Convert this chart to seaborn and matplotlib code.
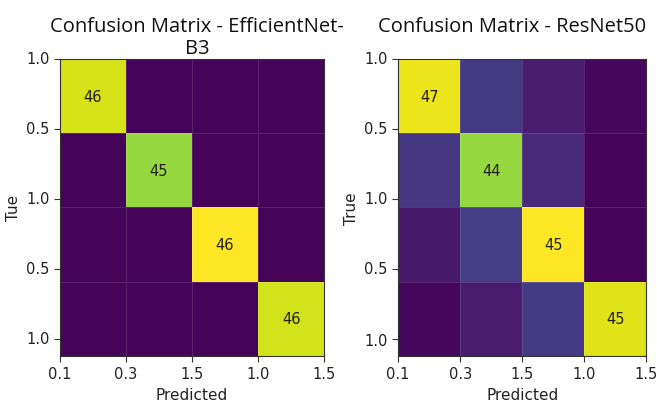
import numpy as np
import matplotlib
matplotlib.use("Agg")
import matplotlib.pyplot as plt
import seaborn as sns

# Data
titles = ["Confusion Matrix - EfficientNet-\nB3", "Confusion Matrix - ResNet50"]
ylabels = ["Tue", "True"]
xlabel = "Predicted"
x_tick_labels = ["0.1", "0.3", "1.5", "1.0", "1.5"]
y_tick_labels = ["1.0", "0.5", "1.0", "0.5", "1.0"]

# diagonal counts shown in the cells
effnet_counts = [46, 45, 46, 46]
resnet_counts = [47, 44, 45, 45]

# colour intensity of each cell (fraction of the viridis range)
effnet_shade = [
    [0.94, 0.01, 0.01, 0.01],
    [0.01, 0.84, 0.01, 0.01],
    [0.01, 0.01, 1.00, 0.01],
    [0.01, 0.01, 0.01, 0.93],
]
resnet_shade = [
    [0.97, 0.17, 0.08, 0.02],
    [0.16, 0.84, 0.12, 0.01],
    [0.07, 0.18, 1.00, 0.01],
    [0.02, 0.08, 0.17, 0.95],
]

sns.set_style("white")
plt.rcParams["font.family"] = ["DejaVu Sans"]

fig = plt.figure(figsize=(6.57, 4.02), dpi=100)
ax1 = fig.add_axes([0.0913, 0.112, 0.402, 0.739])
ax2 = fig.add_axes([0.606, 0.112, 0.3775, 0.739])

for ax, shade, counts, title, ylab, tx in [
    (ax1, effnet_shade, effnet_counts, titles[0], ylabels[0], 0.52),
    (ax2, resnet_shade, resnet_counts, titles[1], ylabels[1], 0.46),
]:
    shade = np.array(shade)
    n = shade.shape[0]
    annot = np.full((n, n), "", dtype=object)
    for i, c in enumerate(counts):
        annot[i, i] = str(c)
    sns.heatmap(shade, ax=ax, cmap="viridis", vmin=0, vmax=1, cbar=False,
                annot=annot, fmt="", annot_kws={"color": "#222222", "fontsize": 10.5},
                linewidths=0.4, linecolor=(1, 1, 1, 0.12), square=False)
    ax.set_xticks(np.arange(n + 1))
    ax.set_xticklabels(x_tick_labels, rotation=0, fontsize=10.5, color="#222222")
    ax.set_yticks(np.linspace(0, 3.77, 5))
    ax.set_yticklabels(y_tick_labels, rotation=0, fontsize=10.5, color="#222222")
    ax.tick_params(axis="both", length=4, width=0.8, color="#333333", bottom=True, left=True)
    ax.set_xlabel(xlabel, fontsize=11, color="#222222")
    ax.set_ylabel(ylab, fontsize=11, color="#222222", labelpad=4)
    ax.set_title(title, fontsize=14.5, color="#111111", x=tx, y=1.115, va="top",
                 linespacing=1.1, family="Open Sans")
    for s in ax.spines.values():
        s.set_visible(True)
        s.set_color("#333333")
        s.set_linewidth(0.8)

fig.savefig("out.png", dpi=100)
